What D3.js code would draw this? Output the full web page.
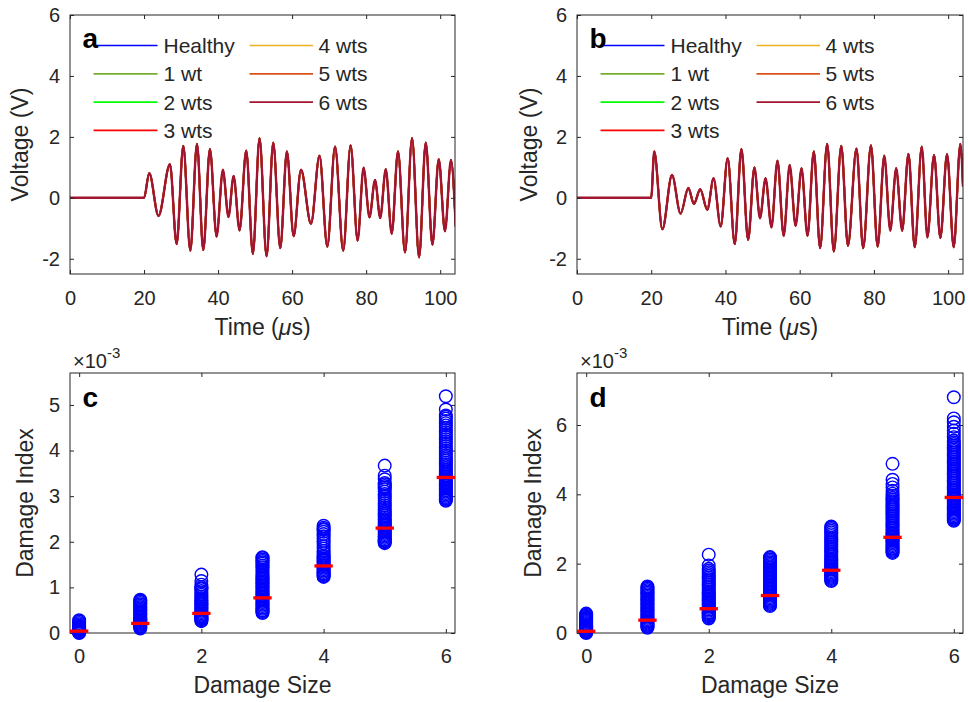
<!DOCTYPE html>
<html><head><meta charset="utf-8">
<script src="https://cdn.jsdelivr.net/npm/d3@7"></script>
<style>
body{margin:0;background:#fff}
svg{display:block}
text{font-family:"Liberation Sans",Arial,Helvetica,sans-serif}
</style>
</head><body>
<svg id="chart" width="968" height="702"></svg>
<script>
// ---------- DATA ----------
const seriesNames  = ["Healthy","1 wt","2 wts","3 wts","4 wts","5 wts","6 wts"];
const seriesColors = ["#0000FF","#77AC30","#00FF00","#FF0000","#EDB120","#D95319","#A2142F"];

const xTicksWave = [0,20,40,60,80,100];
const yTicksWave = [-2,0,2,4,6];

// panel a: signal extrema (time in microseconds, voltage in V)
const timeA = [0,20,21.4,23.9,27.0,28.8,30.6,32.5,34.3,36.0,37.8,39.6,41.3,42.8,44.2,45.8,47.6,49.4,51.2,53.1,54.9,56.8,58.6,60.4,62.4,65.1,67.4,69.5,71.6,73.8,75.8,77.7,79.3,80.9,82.4,83.8,85.3,86.9,88.6,90.5,92.4,94.3,96.1,97.9,99.6,101.3,102.9,104.2];
const voltA = [0,0,0.81,-0.59,1.10,-1.52,1.70,-1.73,1.77,-1.71,1.60,-1.27,0.92,-0.63,0.72,-1.07,1.55,-1.84,1.96,-1.92,1.81,-1.65,1.52,-1.26,0.92,-0.85,1.38,-1.60,1.68,-1.73,1.72,-1.40,0.99,-0.64,0.59,-0.66,0.94,-1.18,1.52,-1.79,1.96,-1.95,1.81,-1.54,1.27,-1.10,1.24,-0.94];

// panel b
const timeB = [0,20,20.8,23.0,25.6,27.9,30.0,31.5,33.2,35.1,36.8,38.7,40.6,42.5,44.3,46.1,47.8,49.3,50.8,52.4,54.0,55.7,57.3,58.9,60.5,62.1,63.8,65.5,67.4,69.2,71.2,73.0,75.3,77.1,79.2,81.0,82.8,84.4,86.0,87.6,89.3,91.0,92.9,94.4,96.2,97.9,99.7,101.5,103.3,104.0];
const voltB = [0,0,1.52,-1.03,0.75,-0.52,0.32,-0.20,0.28,-0.39,0.64,-0.94,1.30,-1.52,1.60,-1.38,1.00,-0.67,0.64,-0.97,1.22,-1.25,1.08,-0.92,0.97,-1.25,1.52,-1.65,1.77,-1.76,1.70,-1.57,1.61,-1.65,1.72,-1.60,1.38,-1.08,0.97,-1.08,1.44,-1.62,1.68,-1.30,1.41,-1.32,1.43,-1.62,1.77,0.37];

// panels c & d: damage index values (in units of 10^-3)
const damageSizes = [0,1,2,3,4,5,6];
const xTicksDI = [0,2,4,6];
const yTicksC = [0,1,2,3,4,5];
const yTicksD = [0,2,4,6];

const diC = [
  [0.00,0.01,0.02,0.03,0.04,0.05,0.06,0.07,0.08,0.10,0.12,0.14,0.16,0.19,0.22,0.25,0.28],
  [0.10,0.12,0.14,0.16,0.18,0.20,0.22,0.24,0.26,0.28,0.30,0.33,0.36,0.39,0.42,0.45,0.48,0.51,0.54,0.57,0.60,0.63,0.66,0.69,0.71,0.73],
  [0.26,0.28,0.30,0.32,0.34,0.36,0.38,0.40,0.43,0.46,0.49,0.52,0.55,0.58,0.61,0.64,0.67,0.70,0.73,0.76,0.80,0.84,0.88,0.92,0.96,0.98,1.01,1.06,1.14,1.28],
  [0.44,0.46,0.48,0.50,0.53,0.56,0.59,0.62,0.65,0.68,0.71,0.74,0.77,0.80,0.83,0.86,0.89,0.92,0.95,0.98,1.01,1.04,1.07,1.10,1.13,1.16,1.19,1.22,1.25,1.28,1.32,1.36,1.40,1.44,1.48,1.52,1.55,1.58,1.61,1.64,1.66],
  [1.23,1.25,1.27,1.29,1.31,1.34,1.37,1.40,1.43,1.46,1.49,1.52,1.55,1.58,1.61,1.64,1.67,1.70,1.75,1.80,1.85,1.90,1.97,2.02,2.07,2.12,2.17,2.22,2.26,2.28,2.31,2.35],
  [1.97,1.99,2.01,2.03,2.05,2.08,2.11,2.14,2.17,2.20,2.23,2.26,2.29,2.32,2.35,2.38,2.41,2.44,2.47,2.50,2.54,2.58,2.62,2.66,2.70,2.75,2.80,2.85,2.90,2.95,3.00,3.05,3.10,3.15,3.19,3.22,3.26,3.29,3.37,3.45,3.67],
  [2.90,2.92,2.94,2.96,2.98,3.01,3.04,3.07,3.10,3.13,3.16,3.19,3.22,3.25,3.28,3.31,3.34,3.37,3.40,3.43,3.46,3.50,3.54,3.58,3.62,3.66,3.70,3.74,3.78,3.82,3.86,3.90,3.95,4.00,4.05,4.10,4.15,4.20,4.25,4.30,4.35,4.40,4.45,4.50,4.55,4.60,4.65,4.70,4.74,4.77,4.90,5.19]
];
const meanC = [0.04,0.21,0.43,0.77,1.47,2.30,3.41];

const diD = [
  [0.00,0.02,0.04,0.06,0.08,0.10,0.12,0.14,0.17,0.20,0.23,0.26,0.29,0.32,0.35,0.38,0.41,0.44,0.47,0.50,0.53,0.56],
  [0.15,0.18,0.21,0.24,0.27,0.30,0.33,0.36,0.40,0.44,0.48,0.52,0.56,0.60,0.64,0.68,0.72,0.76,0.80,0.84,0.88,0.92,0.96,1.00,1.04,1.08,1.12,1.16,1.20,1.24,1.28,1.31,1.34],
  [0.42,0.45,0.48,0.51,0.54,0.57,0.60,0.64,0.68,0.72,0.76,0.80,0.84,0.88,0.92,0.96,1.00,1.04,1.08,1.12,1.16,1.20,1.25,1.30,1.35,1.40,1.45,1.50,1.55,1.60,1.65,1.70,1.75,1.80,1.85,1.95,2.26],
  [0.78,0.81,0.84,0.87,0.90,0.93,0.96,1.00,1.04,1.08,1.12,1.16,1.20,1.24,1.28,1.32,1.36,1.40,1.44,1.48,1.52,1.56,1.60,1.64,1.68,1.72,1.76,1.80,1.84,1.88,1.92,1.96,2.00,2.04,2.08,2.12,2.16,2.19],
  [1.50,1.53,1.56,1.59,1.62,1.65,1.68,1.71,1.75,1.79,1.83,1.87,1.91,1.95,1.99,2.03,2.07,2.11,2.15,2.20,2.25,2.30,2.35,2.40,2.45,2.50,2.55,2.60,2.65,2.70,2.75,2.80,2.85,2.90,2.95,3.00,3.04,3.07],
  [2.31,2.34,2.37,2.40,2.43,2.46,2.50,2.54,2.58,2.62,2.66,2.70,2.74,2.78,2.82,2.86,2.90,2.95,3.00,3.05,3.10,3.15,3.20,3.25,3.30,3.35,3.40,3.45,3.50,3.55,3.60,3.65,3.70,3.75,3.80,3.85,3.90,3.96,4.02,4.10,4.20,4.30,4.42,4.88],
  [3.24,3.27,3.30,3.33,3.36,3.40,3.44,3.48,3.52,3.56,3.60,3.64,3.68,3.72,3.76,3.80,3.84,3.88,3.92,3.96,4.00,4.05,4.10,4.15,4.20,4.25,4.30,4.35,4.40,4.45,4.50,4.55,4.60,4.65,4.70,4.75,4.80,4.85,4.90,4.95,5.00,5.05,5.10,5.15,5.20,5.25,5.30,5.35,5.40,5.45,5.50,5.55,5.65,5.75,5.84,5.95,6.08,6.19,6.80]
];
const meanD = [0.05,0.37,0.70,1.08,1.81,2.76,3.91];

// ---------- DRAWING ----------
const svg = d3.select("#chart");
const INK = "#262626";

function frame(g, x, y, xt, yt, xpad) {
  const [x0, x1] = x.range();
  const [yb, yt0] = y.range();
  const fmt = d => String(d);
  const style = sel => {
    sel.select(".domain").remove();
    sel.attr("font-family", null).attr("font-size", null);
    sel.selectAll(".tick line").attr("stroke", INK);
    sel.selectAll(".tick text").attr("fill", INK).style("font-size", "20px");
  };
  g.append("g").attr("transform", `translate(0,${yb})`)
    .call(d3.axisBottom(x).tickValues(xt).tickSize(-4).tickPadding(xpad).tickFormat(fmt)).call(style);
  g.append("g").attr("transform", `translate(0,${yt0})`)
    .call(d3.axisTop(x).tickValues(xt).tickSize(-4).tickFormat("")).call(style);
  g.append("g").attr("transform", `translate(${x0},0)`)
    .call(d3.axisLeft(y).tickValues(yt).tickSize(-4).tickPadding(10).tickFormat(fmt)).call(style);
  g.append("g").attr("transform", `translate(${x1},0)`)
    .call(d3.axisRight(y).tickValues(yt).tickSize(-4).tickFormat("")).call(style);
  g.append("rect").attr("x", x0).attr("y", yt0).attr("width", x1 - x0).attr("height", yb - yt0)
    .attr("fill", "none").attr("stroke", INK).attr("stroke-width", 1);
}

function wavePanel(box, times, volts, letter, ylabX) {
  const g = svg.append("g");
  const x = d3.scaleLinear().domain([0, 104]).range([box.left, box.right]);
  const y = d3.scaleLinear().domain([-2.5, 6]).range([box.bottom, box.top]);
  const cid = "clip" + letter;
  svg.append("clipPath").attr("id", cid).append("rect")
    .attr("x", box.left).attr("y", box.top).attr("width", box.right - box.left).attr("height", box.bottom - box.top);
  const pts = d3.zip(times, volts);
  const line = d3.line().x(d => x(d[0])).y(d => y(d[1])).curve(d3.curveMonotoneX);
  const lg = g.append("g").attr("clip-path", `url(#${cid})`);
  seriesNames.forEach((name, i) => {
    const top = i === seriesNames.length - 1;
    lg.append("path").attr("d", line(pts)).attr("fill", "none")
      .attr("stroke", seriesColors[i]).attr("stroke-width", top ? 2.4 : 1.8).attr("stroke-linejoin", "round");
  });
  frame(g, x, y, xTicksWave, yTicksWave, 16.5);
  // legend
  seriesNames.forEach((name, i) => {
    const col = i < 4 ? 0 : 1, row = i < 4 ? i : i - 4;
    const ly = box.top + 30.5 + row * 28.3;
    const lx0 = box.left + (col ? 179.5 : 23.5), lx1 = box.left + (col ? 243 : 87.5);
    g.append("line").attr("x1", lx0).attr("x2", lx1).attr("y1", ly).attr("y2", ly)
      .attr("stroke", seriesColors[i]).attr("stroke-width", 1.7);
    g.append("text").attr("x", box.left + (col ? 248.5 : 93.5)).attr("y", ly).attr("dy", "0.36em")
      .attr("fill", INK).style("font-size", "21px").text(name);
  });
  g.append("text").attr("x", box.left + 12.5).attr("y", box.top + 33).attr("fill", "#000")
    .style("font-size", "28px").style("font-weight", "bold").text(letter);
  // axis labels
  const xl = g.append("text").attr("x", (box.left + box.right) / 2).attr("y", 335)
    .attr("text-anchor", "middle").attr("fill", INK).style("font-size", "23px");
  xl.append("tspan").text("Time (");
  xl.append("tspan").style("font-style", "italic").text("\u03BC");
  xl.append("tspan").text("s)");
  g.append("text").attr("transform", `translate(${ylabX},${(box.top + box.bottom) / 2}) rotate(-90)`)
    .attr("text-anchor", "middle").attr("fill", INK).style("font-size", "23px").text("Voltage (V)");
}

function diPanel(box, groups, means, ymax, yt, letter, ylabX) {
  const g = svg.append("g");
  const x = d3.scaleLinear().domain([-0.15, 6.15]).range([box.left, box.right]);
  const y = d3.scaleLinear().domain([0, ymax]).range([box.bottom, box.top]);
  frame(g, x, y, xTicksDI, yt, 16);
  groups.forEach((vals, gi) => {
    g.append("g").selectAll("circle").data(vals).join("circle")
      .attr("cx", x(damageSizes[gi])).attr("cy", d => y(d)).attr("r", 6.3)
      .attr("fill", "none").attr("stroke", "#0000FF").attr("stroke-width", 1.4);
  });
  g.append("g").selectAll("line").data(means).join("line")
    .attr("x1", (d, i) => x(damageSizes[i] - 0.15)).attr("x2", (d, i) => x(damageSizes[i] + 0.15))
    .attr("y1", d => y(d)).attr("y2", d => y(d))
    .attr("stroke", "#FF0000").attr("stroke-width", 3.3);
  g.append("text").attr("x", box.left + 12.5).attr("y", box.top + 34).attr("fill", "#000")
    .style("font-size", "28px").style("font-weight", "bold").text(letter);
  // exponent
  const ex = g.append("text").attr("x", box.left + 3).attr("y", box.top - 5).attr("fill", INK).style("font-size", "20px");
  ex.append("tspan").text("\u00D710");
  ex.append("tspan").attr("dy", -10).style("font-size", "15px").text("-3");
  g.append("text").attr("x", (box.left + box.right) / 2).attr("y", 692.5)
    .attr("text-anchor", "middle").attr("fill", INK).style("font-size", "23px").text("Damage Size");
  g.append("text").attr("transform", `translate(${ylabX},${(box.top + box.bottom) / 2}) rotate(-90)`)
    .attr("text-anchor", "middle").attr("fill", INK).style("font-size", "23px").text("Damage Index");
}

wavePanel({left: 70, right: 455, top: 15, bottom: 274}, timeA, voltA, "a", 28);
wavePanel({left: 577, right: 963, top: 15, bottom: 274}, timeB, voltB, "b", 537);
diPanel({left: 70, right: 455, top: 373, bottom: 633}, diC, meanC, 5.7, yTicksC, "c", 33);
diPanel({left: 577, right: 963, top: 373, bottom: 633}, diD, meanD, 7.5, yTicksD, "d", 541);
</script>
</body></html>
